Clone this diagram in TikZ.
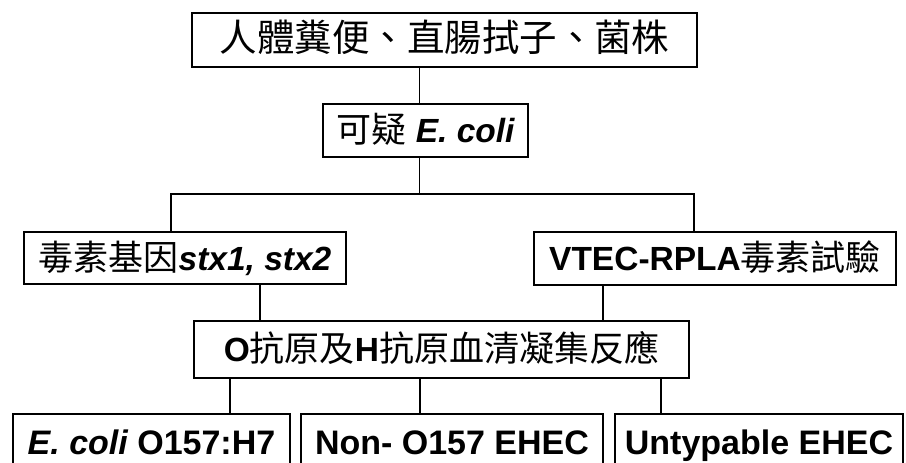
\documentclass[tikz,border=0pt]{standalone}
\usepackage{fontspec}
\setmainfont{Liberation Sans}
\newfontfamily\zhtc{Noto Sans CJK TC}
\newcommand{\zh}[1]{{\zhtc\fontsize{35}{40}\selectfont #1}}
\newcommand{\lb}[1]{{\bfseries #1}}
\newcommand{\lbi}[1]{{\bfseries\itshape #1}}
\begin{document}
\begin{tikzpicture}[x=1pt,y=-1pt,
  box/.style={draw, line width=2.4pt, inner sep=0pt, anchor=center,
    text height=24pt, text depth=0pt,
    font=\fontsize{33.5}{36}\selectfont},
  bigbox/.style={box, font=\fontsize{34}{36}\selectfont},
  conn/.style={line width=1.7pt}]
\useasboundingbox (0,0) rectangle (906,463);
\node[box, minimum width=505pt, minimum height=54pt] (b1) at (444.5,40) {{\zhtc\fontsize{37.5}{40}\selectfont 人體糞便、直腸拭子、菌株}};
\node[box, minimum width=205pt, minimum height=53pt] (b2) at (425.5,130.5) {\zh{可疑} \lbi{E. coli}};
\node[box, minimum width=322pt, minimum height=52pt] (b3) at (185,258) {\zh{毒素基因}\lbi{stx1, stx2}};
\node[box, minimum width=362pt, minimum height=53pt] (b4) at (715,258.5) {\lb{VTEC-RPLA}\zh{毒素試驗}};
\node[box, minimum width=495pt, minimum height=57pt] (b5) at (441.5,349.5) {\lb{O}\zh{抗原及}\lb{H}\zh{抗原血清凝集反應}};
\node[bigbox, minimum width=277pt, minimum height=56pt] (b6) at (151.5,442) {\lbi{E. coli} \lb{O157:H7}};
\node[bigbox, minimum width=302pt, minimum height=56pt] (b7) at (452,442) {\lb{Non- O157 EHEC}};
\node[bigbox, minimum width=288pt, minimum height=56pt] (b8) at (759,442) {\lb{Untypable EHEC}};
\coordinate (x1) at (419.5,0);
\coordinate (busL) at (171,194);
\coordinate (busR) at (694,194);
\coordinate (x3) at (260,0);
\coordinate (x4) at (603,0);
\coordinate (x6) at (230,0);
\coordinate (x7) at (420,0);
\coordinate (x8) at (661,0);
\draw[conn] (b1.south -| x1) -- (b2.north -| x1);
\draw[conn] (b2.south -| x1) -- (x1 |- busL);
\draw[conn] (b3.north -| busL) -- (busL) -- (busR) -- (b4.north -| busR);
\draw[conn] (b3.south -| x3) -- (b5.north -| x3);
\draw[conn] (b4.south -| x4) -- (b5.north -| x4);
\draw[conn] (b5.south -| x6) -- (b6.north -| x6);
\draw[conn] (b5.south -| x7) -- (b7.north -| x7);
\draw[conn] (b5.south -| x8) -- (b8.north -| x8);
\end{tikzpicture}
\end{document}
